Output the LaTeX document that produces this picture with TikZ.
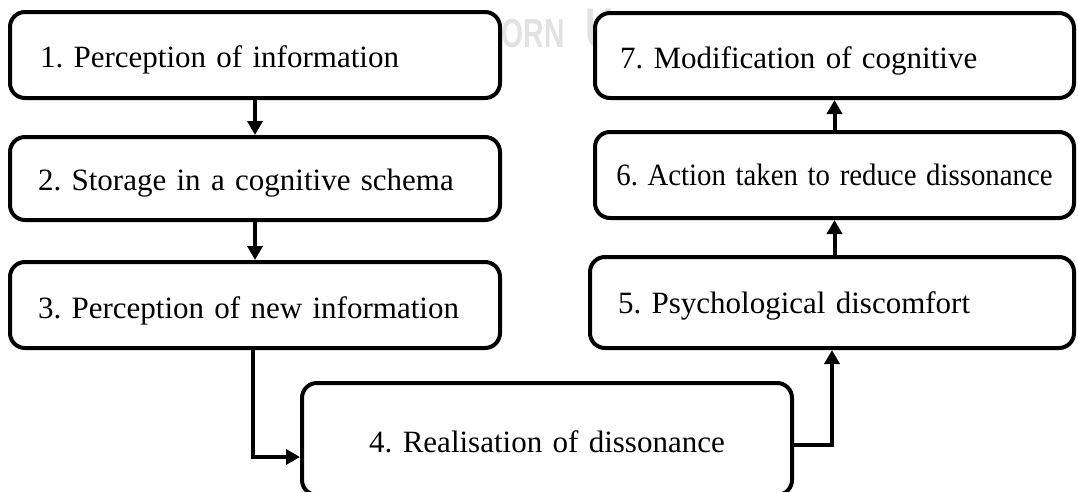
\documentclass[tikz,border=0pt]{standalone}
\usepackage{fontspec}
\setmainfont{Liberation Serif}
\newfontfamily\wmfont{Liberation Sans}
\usetikzlibrary{arrows.meta}
\definecolor{wm}{HTML}{E2E2E2}
\begin{document}
\frenchspacing
\begin{tikzpicture}[x=1pt,y=-1pt,
  box/.style={draw, line width=4pt, rounded corners=15pt, fill=white,
    font=\fontsize{31}{36}\selectfont\frenchspacing, inner ysep=0pt,
    text height=34pt, text depth=10pt},
  lbox/.style={box, align=left},
  cbox/.style={box, align=center},
  arr/.style={line width=4pt, -{Triangle[width=15pt,length=14pt]}},
  wmtext/.style={inner sep=0pt, text=wm, font=\wmfont\bfseries}
]
\useasboundingbox (0,0) rectangle (1078,491);
\clip (0,0) rectangle (1078,491);
% watermark (visible part)
\node[wmtext, anchor=base east] (wm1) at (565,47)
  {\scalebox{0.7}[1]{\fontsize{40.5}{44}\selectfont ORN}};
\node[wmtext, anchor=base west] (wm2) at (585,47)
  {\scalebox{0.7}[1]{\fontsize{56}{60}\selectfont U}};
% boxes
\node[lbox, minimum width=490pt, minimum height=86pt, inner xsep=30pt, text width=430pt] (b1) at (255,55) {1. Perception of information};
\node[lbox, minimum width=490pt, minimum height=83pt, inner xsep=28pt, text width=434pt,
  text height=33.5pt, text depth=10.5pt] (b2) at (255,178.5) {2. Storage in a cognitive schema};
\node[lbox, minimum width=490pt, minimum height=86pt, inner xsep=28pt, text width=434pt,
  text height=35pt, text depth=9pt] (b3) at (255,305) {3. Perception of new information};
\node[cbox, minimum width=490pt, minimum height=112pt, inner xsep=20pt, text width=450pt,
  text height=35pt, text depth=9pt] (b4) at (547,439) {4. Realisation of dissonance};
\node[lbox, minimum width=484pt, minimum height=91pt, inner xsep=28pt, text width=428pt,
  text height=32.5pt, text depth=11.5pt] (b5) at (832,302.5) {5. Psychological discomfort};
\node[cbox, minimum width=479pt, minimum height=86pt, inner xsep=20pt, text width=439pt,
  text height=32pt, text depth=12pt] (b6) at (834.5,175) {\scalebox{0.93}[1]{6. Action taken to reduce dissonance}};
\node[lbox, minimum width=479pt, minimum height=85pt, inner xsep=25pt, text width=429pt,
  text height=34.5pt, text depth=9.5pt] (b7) at (834.5,55.5) {7. Modification of cognitive};
% connectors
\draw[arr] (b1.south) -- (b2.north);
\draw[arr] (b2.south) -- (b3.north);
\draw[arr] ([xshift=-2pt]b3.south) |- ([yshift=-18pt]b4.west);
\draw[arr] ([yshift=-6pt]b4.east) -| (b5.south);
\draw[arr] (b6.south |- b5.north) -- (b6.south);
\draw[arr] (b6.north) -- (b7.south);
\end{tikzpicture}
\end{document}
